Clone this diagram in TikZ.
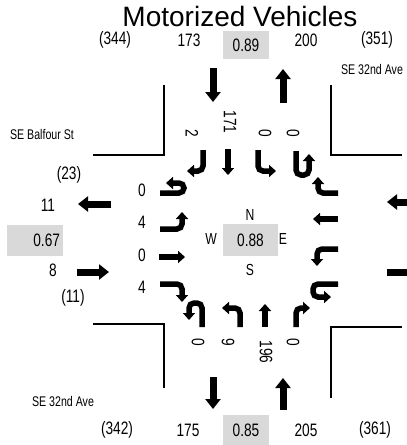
\documentclass[tikz,border=0pt]{standalone}
\usepackage{fontspec}
\setmainfont{Liberation Sans}
\newfontfamily\narrowfont{Liberation Sans}[FakeStretch=0.76]
\usetikzlibrary{arrows.meta}

\begin{document}
\begin{tikzpicture}[x=1pt,y=-1pt,
  num/.style={font=\narrowfont\fontsize{18}{21}\selectfont,inner sep=1pt},
  rd/.style={font=\narrowfont\fontsize{14}{16}\selectfont,inner sep=0pt},
  dir/.style={font=\narrowfont\fontsize{16}{19}\selectfont,inner sep=0pt},
  vol/.style={num,rotate=-90,inner sep=0pt},
  phf/.style={num,fill=black!15,minimum width=46pt,minimum height=28pt},
  leg/.style={line width=7pt,-{Triangle[length=10pt,width=15pt]}},
  mv/.style={line width=5.5pt,rounded corners=5pt,-{Triangle[length=7pt,width=12pt]}},
  curb/.style={line width=1.5pt}]
\clip (0,0) rectangle (407,445);
\node[font=\fontsize{28}{32}\selectfont] (title) at (240,16) {Motorized Vehicles};
% north leg
\node[num] (n-tot) at (115,40) {(344)};
\node[num] (n-in)  at (189,40) {173};
\node[phf] (n-phf) at (246,45) {0.89};
\node[num] (n-out) at (306,40) {200};
\node[num] (n-tot2) at (377,40) {(351)};
\draw[leg] (213,68) -- (213,102);
\draw[leg] (283,103) -- (283,69);
\foreach \v/\x/\y [count=\i] in {2/192/133,171/230/122,0/265/133,0/293/133}
  \node[vol] (n\i) at (\x,\y) {\v};
% south leg
\node[num] (s-tot) at (117,430) {(342)};
\node[num] (s-out) at (188,430) {175};
\node[phf,minimum height=30pt] (s-phf) at (246,430) {0.85};
\node[num] (s-in)  at (306,430) {205};
\node[num] (s-tot2) at (375,430) {(361)};
\draw[leg] (213,377) -- (213,409);
\draw[leg] (283,410) -- (283,378);
\foreach \v/\x/\y [count=\i] in {0/198/342,9/228/342,196/266/352,0/293/342}
  \node[vol] (s\i) at (\x,\y) {\v};
% west leg
\node[num] (w-tot) at (69,175) {(23)};
\node[num] (w-out) at (48,205) {11};
\node[phf,minimum width=56pt,minimum height=31pt,text width=50pt,align=right] (w-phf) at (35,240) {0.67};
\node[num] (w-in)  at (53,270) {8};
\node[num] (w-tot2) at (73,298) {(11)};
\draw[leg] (111,204) -- (78,204);
\draw[leg] (77,272) -- (109,272);
\foreach \v/\y [count=\i] in {0/190,4/222,0/255,4/287}
  \node[num] (w\i) at (142,\y) {\v};
% east leg (cut off)
\draw[leg] (420,202) -- (387,202);
\draw[leg] (387,272) -- (430,272);
% street names
\node[rd] (r1) at (42,134) {SE Balfour St};
\node[rd] (r2) at (372,69) {SE 32nd Ave};
\node[rd] (r3) at (63,401) {SE 32nd Ave};
% curbs
\draw[curb] (93,155) -| (164,85);
\draw[curb] (402,155) -| (331,85);
\draw[curb] (93,324) -| (164,388);
\draw[curb] (402,327) -| (331,398);
% centre
\node[dir] (north) at (250,215) {N};
\node[dir] (west) at (211,239) {W};
\node[phf,minimum width=55pt,minimum height=32pt] (i-phf) at (250.5,240) {0.88};
\node[dir] (east) at (283,239) {E};
\node[dir] (south) at (250,270) {S};
% movements, west approach
\draw[mv] (160,193) -- (184,193) -- (184,183) -- (166,183);
\draw[mv] (160,229) -- (182,229) -- (182,212);
\draw[mv] (159,257) -- (185,257);
\draw[mv] (160,284) -- (182,284) -- (182,302);
% north approach
\draw[mv] (203,150) -- (203,171) -- (187,171);
\draw[mv] (228,149) -- (228,175);
\draw[mv] (258,150) -- (258,171) -- (276,171);
\draw[mv] (296,151) -- (296,175) -- (309,175) -- (309,154);
% east approach
\draw[mv] (338,193) -- (318,193) -- (318,177);
\draw[mv] (338,219) -- (313,219);
\draw[mv] (338,249) -- (317,249) -- (317,266);
\draw[mv] (338,284) -- (313,284) -- (313,297) -- (331,297);
% south approach
\draw[mv] (202,327) -- (202,303) -- (189,303) -- (189,320);
\draw[mv] (240,327) -- (240,308) -- (222,308);
\draw[mv] (265,327) -- (265,304);
\draw[mv] (296,327) -- (296,308) -- (310,308);
\end{tikzpicture}
\end{document}
